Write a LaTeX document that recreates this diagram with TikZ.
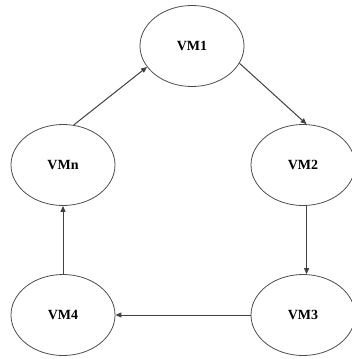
\documentclass[tikz,border=0pt]{standalone}
\usepackage{fontspec}
\setmainfont{Liberation Serif}
\usetikzlibrary{shapes.geometric,arrows.meta}
\begin{document}
\begin{tikzpicture}[x=1pt,y=-1pt,
  vm/.style={draw=black!70,line width=0.8pt,ellipse,minimum width=104pt,minimum height=81pt,inner sep=0pt,font=\fontsize{14}{16}\selectfont\bfseries},
  conn/.style={draw=black!75,line width=1pt,-{Triangle[length=6pt,width=5pt]}}]
\useasboundingbox (0,0) rectangle (351,359);
\node[vm] (vm1) at (192,46) {VM1};
\node[vm] (vm2) at (303,165) {VM2};
\node[vm] (vm3) at (303,315) {VM3};
\node[vm] (vm4) at (63,315) {VM4};
\node[vm] (vmn) at (63,165) {VMn};
\draw[conn] (vmn.75) -- (vm1.205);
\draw[conn] (vm1.-20) -- (vm2.85);
\draw[conn] (vm2.-85) -- (vm3.85);
\draw[conn] (vm3.west) -- (vm4.east);
\draw[conn] (vm4.north) -- (vmn.south);
\end{tikzpicture}
\end{document}
